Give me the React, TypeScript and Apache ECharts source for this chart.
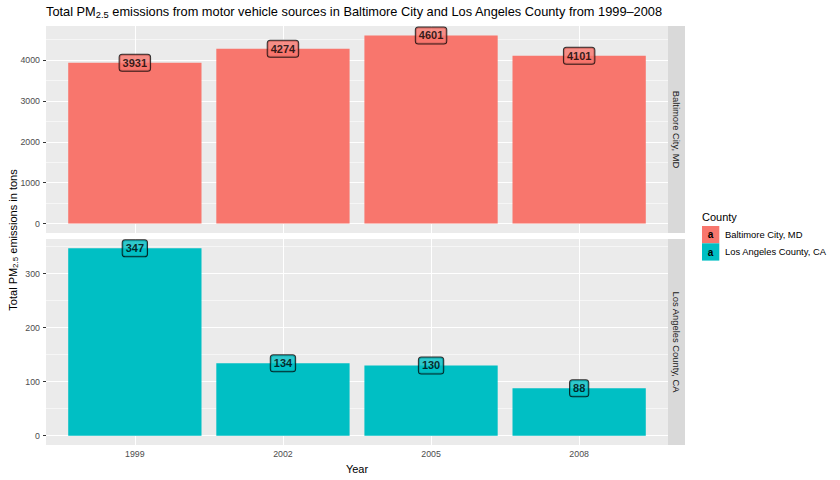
import React, { useEffect, useRef } from "react";
import * as echarts from "echarts";

const years = ["1999", "2002", "2005", "2008"];
const counties = ["Baltimore City, MD", "Los Angeles County, CA"];
const baltimore = [3931, 4274, 4601, 4101];
const losAngeles = [347, 134, 130, 88];
const countyColors = ["#F8766D", "#00BFC4"];
const topTicks = [0, 1000, 2000, 3000, 4000];
const topMinor = [500, 1500, 2500, 3500, 4500];
const bottomTicks = [0, 100, 200, 300];
const bottomMinor = [50, 150, 250, 350];

const FONT = "'Liberation Sans', Arial, sans-serif";

export default function App() {
  const ref = useRef<HTMLDivElement>(null);
  useEffect(() => {
    const chart = echarts.init(ref.current!, null, { renderer: "svg" });

    const panels = [
      { name: counties[0], values: baltimore, color: countyColors[0], ticks: topTicks, minor: topMinor },
      { name: counties[1], values: losAngeles, color: countyColors[1], ticks: bottomTicks, minor: bottomMinor },
    ];
    const xPos = years.map((_, i) => i + 1);
    const panelLeft = 46;
    const panelWidth = 622;
    const tops = [26, 239];
    const heights = [207, 206];
    const stripW = 17;

    const grids = panels.map((p, i) => ({
      left: panelLeft,
      top: tops[i],
      width: panelWidth,
      height: heights[i],
      show: true,
      backgroundColor: "#EBEBEB",
      borderWidth: 0,
      containLabel: false,
      outerBoundsMode: "none",
    }));

    const xAxes = panels.map((p, i) => ({
      type: "value",
      gridIndex: i,
      min: 0.4,
      max: 4.6,
      splitLine: { show: false },
      axisLine: { show: false },
      axisTick: {
        show: i === 1,
        customValues: xPos,
        length: 3,
        lineStyle: { color: "#333333", width: 1 },
      },
      axisLabel: {
        show: i === 1,
        customValues: xPos,
        formatter: (v: number) => years[Math.round(v) - 1] ?? "",
        color: "#4D4D4D",
        fontSize: 8.8,
        fontFamily: FONT,
        margin: 4,
      },
      name: i === 1 ? "Year" : "",
      nameLocation: "middle",
      nameGap: 18,
      nameTextStyle: { color: "#000", fontSize: 11, fontFamily: FONT },
    }));

    const yAxes = panels.map((p, i) => {
      const mx = Math.max(...p.values);
      const pad = mx * 0.05;
      return {
        type: "value",
        gridIndex: i,
        min: -pad,
        max: mx + pad,
        splitLine: { show: false },
        axisLine: { show: false },
        axisTick: {
          show: true,
          customValues: p.ticks,
          length: 3,
          lineStyle: { color: "#333333", width: 1 },
        },
        axisLabel: {
          customValues: p.ticks,
          formatter: (v: number) => String(v),
          color: "#4D4D4D",
          fontSize: 8.8,
          fontFamily: FONT,
          margin: 6,
        },
      };
    });

    const series: any[] = [];
    panels.forEach((p, i) => {
      series.push({
        type: "bar",
        xAxisIndex: i,
        yAxisIndex: i,
        data: p.values.map((v, j) => [xPos[j], v]),
        barWidth: "90%",
        itemStyle: { color: p.color },
        z: 2,
        silent: true,
        markLine: {
          silent: true,
          symbol: "none",
          z: 1,
          animation: false,
          label: { show: false },
          lineStyle: { color: "#FFFFFF", type: "solid" },
          emphasis: { disabled: true },
          data: [
            ...p.ticks.map((v) => ({ yAxis: v, lineStyle: { color: "#FFFFFF", width: 1.1, type: "solid" } })),
            ...p.minor.map((v) => ({ yAxis: v, lineStyle: { color: "#FFFFFF", width: 0.55, type: "solid" } })),
            ...xPos.map((v) => ({ xAxis: v, lineStyle: { color: "#FFFFFF", width: 1.1, type: "solid" } })),
          ],
        },
      });
      series.push({
        type: "scatter",
        xAxisIndex: i,
        yAxisIndex: i,
        data: p.values.map((v, j) => [xPos[j], v]),
        symbolSize: 0,
        z: 3,
        silent: true,
        label: {
          show: true,
          position: "inside",
          formatter: (d: any) => String(d.value[1]),
          backgroundColor: p.color,
          borderColor: "#000",
          borderWidth: 1,
          borderRadius: 2.5,
          padding: [3, 3, 2, 3],
          color: "#000",
          fontWeight: "bold",
          fontSize: 11,
          fontFamily: FONT,
        },
      });
    });

    const graphics: any[] = [];
    panels.forEach((p, i) => {
      graphics.push({
        type: "rect",
        shape: { x: panelLeft + panelWidth, y: tops[i], width: stripW, height: heights[i] },
        style: { fill: "#D9D9D9" },
        silent: true,
      });
      graphics.push({
        type: "text",
        x: panelLeft + panelWidth + stripW / 2,
        y: tops[i] + heights[i] / 2,
        rotation: -Math.PI / 2,
        style: {
          text: p.name,
          fill: "#1A1A1A",
          fontSize: 9.4,
          fontFamily: FONT,
          align: "center",
          verticalAlign: "middle",
        },
        silent: true,
      });
    });

    // y-axis title
    graphics.push({
      type: "text",
      x: 13,
      y: 240,
      rotation: Math.PI / 2,
      style: {
        text: "{a|Total PM}{s|2.5}{a| emissions in tons}",
        align: "center",
        verticalAlign: "middle",
        fill: "#000",
        fontFamily: FONT,
        rich: {
          a: { fontSize: 11, lineHeight: 13, fontFamily: FONT, fill: "#000", color: "#000" },
          s: { fontSize: 8, lineHeight: 6, verticalAlign: "bottom", fontFamily: FONT, fill: "#000", color: "#000" },
        },
      },
      silent: true,
    });

    // legend
    const legX = 702;
    graphics.push({
      type: "text",
      x: legX,
      y: 217,
      style: { text: "County", fill: "#000", fontSize: 11, fontFamily: FONT, align: "left", verticalAlign: "middle" },
      silent: true,
    });
    counties.forEach((c, i) => {
      const ky = 226 + i * 17.3;
      graphics.push({
        type: "rect",
        shape: { x: legX, y: ky, width: 17.3, height: 17.3 },
        style: { fill: countyColors[i] },
        silent: true,
      });
      graphics.push({
        type: "text",
        x: legX + 8.6,
        y: ky + 8.8,
        style: { text: "a", fill: "#000", fontSize: 10, fontWeight: "bold", fontFamily: FONT, align: "center", verticalAlign: "middle" },
        silent: true,
      });
      graphics.push({
        type: "text",
        x: legX + 23,
        y: ky + 8.6,
        style: { text: c, fill: "#000", fontSize: 9.4, fontFamily: FONT, align: "left", verticalAlign: "middle" },
        silent: true,
      });
    });

    const option: any = {
      animation: false,
      backgroundColor: "#FFFFFF",
      title: {
        left: 46,
        top: 3,
        padding: 0,
        text: "{a|Total PM}{s|2.5}{a| emissions from motor vehicle sources in Baltimore City and Los Angeles County from 1999–2008}",
        textStyle: {
          fontFamily: FONT,
          fontWeight: "normal",
          color: "#000",
          rich: {
            a: { fontSize: 12.8, lineHeight: 16, fontFamily: FONT, color: "#000" },
            s: { fontSize: 9.3, lineHeight: 7, verticalAlign: "bottom", fontFamily: FONT, color: "#000" },
          },
        },
      },
      grid: grids,
      xAxis: xAxes,
      yAxis: yAxes,
      series,
      graphic: graphics,
    };

    chart.setOption(option);
    return () => chart.dispose();
  }, []);

  return (
    <div
      ref={ref}
      style={{ position: "fixed", left: 0, top: 0, width: 840, height: 480, background: "#fff" }}
    />
  );
}
